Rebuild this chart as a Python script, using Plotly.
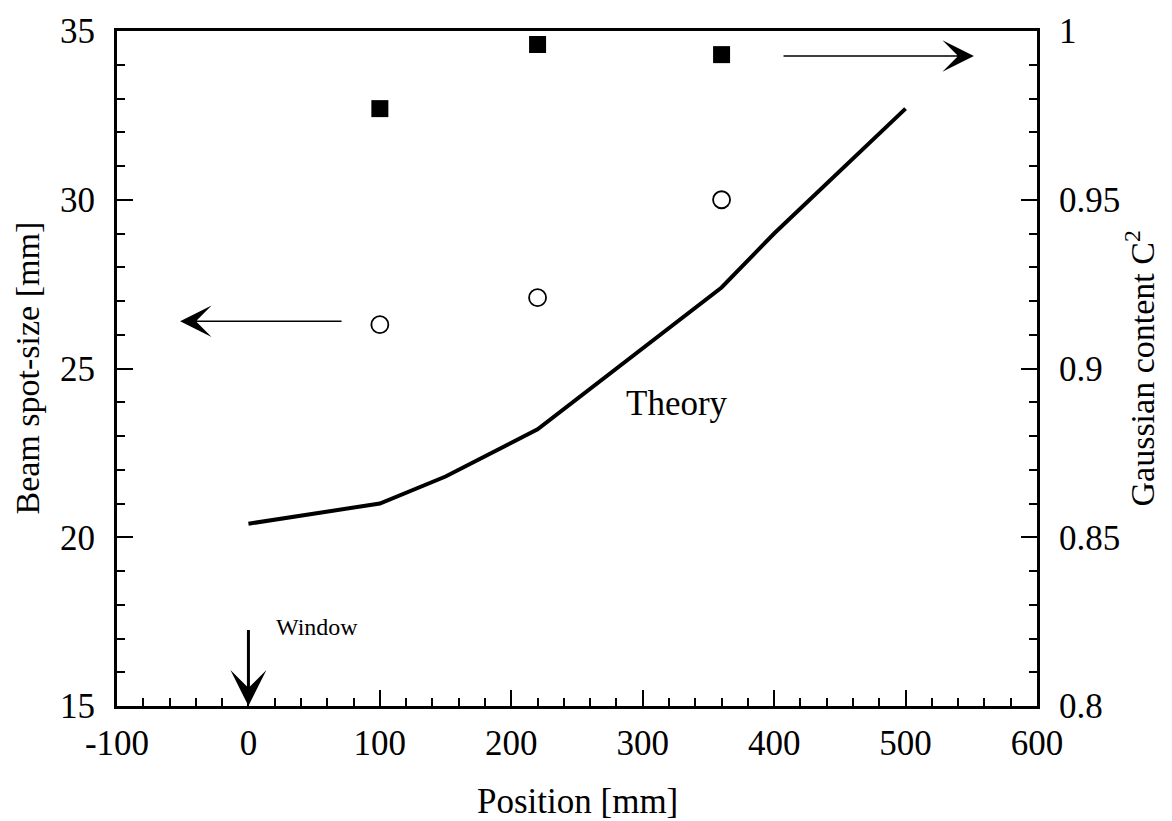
import plotly.graph_objects as go

# Measured beam spot-size (left axis) and Gaussian content (right axis)
position_mm = [100, 220, 360]
spot_size_mm = [26.3, 27.1, 30.0]
gaussian_c2 = [0.977, 0.996, 0.993]

# Theoretical spot-size along the beam path
theory_pos = [0, 100, 150, 220, 360, 400, 500]
theory_size = [20.4, 21.0, 21.8, 23.2, 27.4, 29.0, 32.7]

# Axis tick values and their printed labels
x_ticks = [-100, 0, 100, 200, 300, 400, 500, 600]
x_tick_labels = ["-100", "0", "100", "200", "300", "400", "500", "600"]
y_ticks = [15, 20, 25, 30, 35]
y2_ticks = [0.8, 0.85, 0.9, 0.95, 1.0]
y2_tick_labels = ["0.8", "0.85", "0.9", "0.95", "1"]

FONT = "Liberation Serif, Times New Roman, serif"
TICK_SIZE = 35

fig = go.Figure()

fig.add_trace(go.Scatter(
    x=theory_pos, y=theory_size, mode="lines",
    line=dict(color="black", width=4), yaxis="y", showlegend=False,
))
fig.add_trace(go.Scatter(
    x=position_mm, y=spot_size_mm, mode="markers",
    marker=dict(symbol="circle-open", size=17, color="black", line=dict(width=1.8)),
    yaxis="y", showlegend=False,
))
fig.add_trace(go.Scatter(
    x=position_mm, y=gaussian_c2, mode="markers",
    marker=dict(symbol="square", size=17, color="black"),
    yaxis="y2", showlegend=False,
))

axis_common = dict(
    showgrid=False, zeroline=False, showline=True, linecolor="black", linewidth=3,
    ticks="inside", ticklen=16, tickwidth=2, tickcolor="black",
    tickfont=dict(family=FONT, size=TICK_SIZE, color="black"),
)

fig.update_layout(
    width=1172, height=821,
    margin=dict(l=117, r=135, t=27, b=115),
    paper_bgcolor="white", plot_bgcolor="white",
    xaxis=dict(
        **axis_common, range=[-100, 600], tickvals=x_ticks, ticktext=x_tick_labels, mirror=True,
        minor=dict(ticks="inside", ticklen=8, tickwidth=1.5, dtick=20, tick0=0, tickcolor="black"),
        ticklabelstandoff=4,
    ),
    yaxis=dict(
        **axis_common, range=[15, 35], tickvals=y_ticks,
        minor=dict(ticks="inside", ticklen=8, tickwidth=1.5, dtick=1, tick0=15, tickcolor="black"),
        ticklabelstandoff=12,
    ),
    yaxis2=dict(
        **axis_common, range=[0.8, 1.0], tickvals=y2_ticks, ticktext=y2_tick_labels,
        overlaying="y", side="right",
        minor=dict(ticks="inside", ticklen=8, tickwidth=1.5, dtick=0.01, tick0=0.8, tickcolor="black"),
        ticklabelstandoff=12,
    ),
)

annotations = [
    # axis titles
    dict(text="Position [mm]", xref="paper", yref="paper", x=0.5, y=0, yshift=-95,
         showarrow=False, font=dict(family=FONT, size=35, color="black"), xanchor="center", yanchor="middle"),
    dict(text="Beam spot-size [mm]", xref="paper", yref="paper", x=0, xshift=-90, y=0.5,
         textangle=-90, showarrow=False, font=dict(family=FONT, size=34, color="black"),
         xanchor="center", yanchor="middle"),
    dict(text="Gaussian content C<sup>2</sup>", xref="paper", yref="paper", x=1, xshift=102, y=0.5,
         textangle=-90, showarrow=False, font=dict(family=FONT, size=34, color="black"),
         xanchor="center", yanchor="middle"),
    # curve label
    dict(text="Theory", x=326, y=23.95, xref="x", yref="y", showarrow=False,
         font=dict(family=FONT, size=35, color="black")),
    dict(text="Window", x=52, y=17.35, xref="x", yref="y", showarrow=False,
         font=dict(family=FONT, size=24, color="black")),
    # arrows pointing to the relevant axes
    dict(text="", x=-52, y=26.4, xref="x", yref="y", ax=72, ay=26.4, axref="x", ayref="y",
         showarrow=True, arrowhead=3, arrowsize=3.5, arrowwidth=1.5, arrowcolor="black"),
    dict(text="", x=552, y=0.9926, xref="x", yref="y2", ax=406, ay=0.9926, axref="x", ayref="y2",
         showarrow=True, arrowhead=3, arrowsize=3.5, arrowwidth=1.5, arrowcolor="black"),
    dict(text="", x=0, y=15, xref="x", yref="y", ax=0, ay=17.3, axref="x", ayref="y",
         showarrow=True, arrowhead=3, arrowsize=2.0, arrowwidth=3, arrowcolor="black"),
]
fig.update_layout(annotations=annotations)

fig.write_html("out.html")
